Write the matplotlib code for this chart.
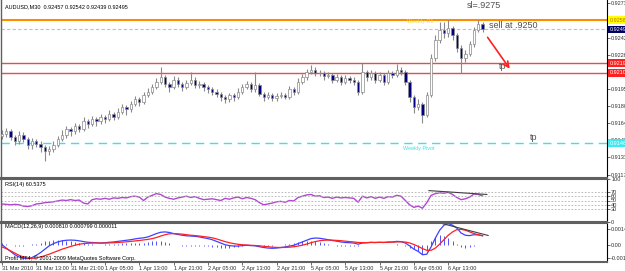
import matplotlib.pyplot as plt
import numpy as np

plt.rcParams['font.family'] = ['Liberation Sans', 'DejaVu Sans']

# AUDUSD bars (one bar per ~4.3 px)
opens = [0.9153, 0.9155, 0.9157, 0.9152, 0.9148, 0.9154, 0.9150, 0.9145, 0.9148, 0.9146,
         0.9143, 0.9139, 0.9141, 0.9145, 0.9150, 0.9154, 0.9159, 0.9157, 0.9162, 0.9159,
         0.9166, 0.9164, 0.9168, 0.9166, 0.9170, 0.9168, 0.9173, 0.9170, 0.9175, 0.9179,
         0.9177, 0.9182, 0.9186, 0.9184, 0.9190, 0.9193, 0.9197, 0.9202, 0.9206, 0.9200,
         0.9197, 0.9204, 0.9200, 0.9197, 0.9201, 0.9204, 0.9199, 0.9200, 0.9197, 0.9195,
         0.9193, 0.9191, 0.9188, 0.9186, 0.9190, 0.9188, 0.9193, 0.9197, 0.9200, 0.9195,
         0.9199, 0.9191, 0.9188, 0.9190, 0.9187, 0.9189, 0.9190, 0.9188, 0.9195, 0.9193,
         0.9202, 0.9206, 0.9211, 0.9213, 0.9210, 0.9210, 0.9207, 0.9208, 0.9204, 0.9206,
         0.9202, 0.9205, 0.9204, 0.9202, 0.9193, 0.9211, 0.9206, 0.9210, 0.9204, 0.9208,
         0.9202, 0.9210, 0.9208, 0.9213, 0.9211, 0.9202, 0.9188, 0.9179, 0.9182, 0.9172,
         0.9190, 0.9224, 0.9240, 0.9249, 0.9246, 0.9251, 0.9244, 0.9233, 0.9224, 0.9227,
         0.9236, 0.9249, 0.9254]
closes = [0.9155, 0.9157, 0.9152, 0.9148, 0.9154, 0.9150, 0.9145, 0.9148, 0.9146, 0.9143,
          0.9139, 0.9141, 0.9145, 0.9150, 0.9154, 0.9159, 0.9157, 0.9162, 0.9159, 0.9166,
          0.9164, 0.9168, 0.9166, 0.9170, 0.9168, 0.9173, 0.9170, 0.9175, 0.9179, 0.9177,
          0.9182, 0.9186, 0.9184, 0.9190, 0.9193, 0.9197, 0.9202, 0.9206, 0.9200, 0.9197,
          0.9204, 0.9200, 0.9197, 0.9201, 0.9204, 0.9199, 0.9200, 0.9197, 0.9195, 0.9193,
          0.9191, 0.9188, 0.9186, 0.9190, 0.9188, 0.9193, 0.9197, 0.9200, 0.9195, 0.9199,
          0.9191, 0.9188, 0.9190, 0.9187, 0.9189, 0.9190, 0.9188, 0.9195, 0.9193, 0.9202,
          0.9206, 0.9211, 0.9213, 0.9210, 0.9210, 0.9207, 0.9208, 0.9204, 0.9206, 0.9202,
          0.9205, 0.9204, 0.9202, 0.9193, 0.9211, 0.9206, 0.9210, 0.9204, 0.9208, 0.9202,
          0.9210, 0.9208, 0.9213, 0.9211, 0.9202, 0.9188, 0.9179, 0.9182, 0.9172, 0.9190,
          0.9224, 0.9240, 0.9249, 0.9246, 0.9251, 0.9244, 0.9233, 0.9224, 0.9227, 0.9236,
          0.9249, 0.9254, 0.92495]
highs = [0.9158, 0.9160, 0.9159, 0.9154, 0.9157, 0.9156, 0.9152, 0.9151, 0.9150, 0.9148,
         0.9145, 0.9144, 0.9148, 0.9153, 0.9158, 0.9162, 0.9161, 0.9165, 0.9164, 0.9170,
         0.9168, 0.9171, 0.9170, 0.9173, 0.9172, 0.9176, 0.9175, 0.9178, 0.9182, 0.9181,
         0.9185, 0.9189, 0.9188, 0.9193, 0.9196, 0.9200, 0.9205, 0.9215, 0.9208, 0.9202,
         0.9207, 0.9206, 0.9202, 0.9204, 0.9211, 0.9206, 0.9203, 0.9202, 0.9199, 0.9197,
         0.9195, 0.9193, 0.9190, 0.9192, 0.9192, 0.9196, 0.9200, 0.9203, 0.9202, 0.9211,
         0.9201, 0.9193, 0.9193, 0.9192, 0.9192, 0.9193, 0.9192, 0.9198, 0.9197, 0.9205,
         0.9209, 0.9214, 0.9217, 0.9215, 0.9213, 0.9212, 0.9211, 0.9210, 0.9209, 0.9208,
         0.9208, 0.9207, 0.9206, 0.9204, 0.9219, 0.9213, 0.9213, 0.9212, 0.9211, 0.9210,
         0.9213, 0.9212, 0.9218, 0.9215, 0.9213, 0.9204, 0.9190, 0.9186, 0.9184, 0.9193,
         0.9227, 0.9244, 0.9256, 0.9256, 0.9258, 0.9253, 0.9246, 0.9235, 0.9231, 0.9239,
         0.9252, 0.9258, 0.9256]
lows = [0.9150, 0.9152, 0.9149, 0.9145, 0.9146, 0.9147, 0.9141, 0.9141, 0.9143, 0.9138,
        0.9130, 0.9136, 0.9138, 0.9143, 0.9148, 0.9151, 0.9153, 0.9155, 0.9156, 0.9157,
        0.9160, 0.9162, 0.9162, 0.9164, 0.9165, 0.9166, 0.9167, 0.9168, 0.9173, 0.9172,
        0.9175, 0.9180, 0.9180, 0.9182, 0.9188, 0.9191, 0.9195, 0.9200, 0.9197, 0.9193,
        0.9195, 0.9197, 0.9194, 0.9195, 0.9199, 0.9196, 0.9196, 0.9194, 0.9192, 0.9190,
        0.9188, 0.9185, 0.9183, 0.9184, 0.9185, 0.9186, 0.9191, 0.9195, 0.9193, 0.9193,
        0.9189, 0.9185, 0.9186, 0.9185, 0.9185, 0.9187, 0.9186, 0.9186, 0.9190, 0.9191,
        0.9200, 0.9204, 0.9209, 0.9207, 0.9207, 0.9204, 0.9205, 0.9201, 0.9202, 0.9199,
        0.9200, 0.9201, 0.9199, 0.9190, 0.9191, 0.9203, 0.9204, 0.9201, 0.9202, 0.9199,
        0.9200, 0.9205, 0.9206, 0.9208, 0.9199, 0.9184, 0.9174, 0.9176, 0.9165, 0.9170,
        0.9188, 0.9221, 0.9237, 0.9242, 0.9243, 0.9240, 0.9229, 0.9210, 0.9220, 0.9225,
        0.9234, 0.9247, 0.9247]

rsi = [42, 41, 40, 41, 40, 37, 36, 38, 42, 43,
       45, 46, 47, 49, 51, 50, 52, 50, 51, 44,
       42, 52, 54, 53, 55, 53, 56, 55, 57, 56,
       59, 60, 58, 50, 58, 62, 66, 64, 58, 55,
       53, 56, 58, 60, 57, 59, 55, 52, 53, 54,
       52, 50, 55, 53, 56, 58, 54, 57, 55, 52,
       45, 40, 42, 44, 47, 48, 46, 50, 49, 57,
       60, 63, 64, 60, 61, 57, 58, 55, 58, 56,
       57, 56, 55, 46, 60, 56, 59, 55, 58, 55,
       59, 58, 62, 60, 50, 40, 34, 37, 32, 45,
       62, 66, 68, 67, 69, 64, 57, 52, 54, 58,
       65, 64, 60.5375]

macd_main = [0.00000, -0.00030, -0.00060, -0.00090, -0.00110, -0.00120, -0.00125, -0.00115, -0.00095, -0.00070,
             -0.00040, -0.00010, 0.00010, 0.00025, 0.00035, 0.00040, 0.00042, 0.00040, 0.00035, 0.00028,
             0.00022, 0.00020, 0.00018, 0.00015, 0.00018, 0.00022, 0.00025, 0.00030, 0.00035, 0.00040,
             0.00045, 0.00052, 0.00058, 0.00062, 0.00070, 0.00085, 0.00100, 0.00112, 0.00115, 0.00110,
             0.00100, 0.00092, 0.00085, 0.00080, 0.00078, 0.00075, 0.00070, 0.00062, 0.00055, 0.00045,
             0.00030, 0.00015, 0.00000, -0.00008, -0.00012, -0.00012, -0.00008, -0.00005, -0.00008, -0.00010,
             -0.00018, -0.00025, -0.00030, -0.00032, -0.00030, -0.00025, -0.00020, -0.00012, -0.00005, 0.00010,
             0.00025, 0.00040, 0.00055, 0.00060, 0.00058, 0.00052, 0.00045, 0.00038, 0.00032, 0.00025,
             0.00020, 0.00018, 0.00015, 0.00005, 0.00015, 0.00018, 0.00022, 0.00020, 0.00022, 0.00020,
             0.00024, 0.00025, 0.00030, 0.00028, 0.00015, -0.00010, -0.00040, -0.00060, -0.00090, -0.00085,
             -0.00020, 0.00060, 0.00130, 0.00175, 0.00190, 0.00175, 0.00150, 0.00105, 0.00085, 0.00082,
             0.00090, 0.00088, 0.00081]
macd_signal = [-0.00020, -0.00035, -0.00055, -0.00075, -0.00095, -0.00110, -0.00120, -0.00122, -0.00118, -0.00110,
               -0.00098, -0.00085, -0.00070, -0.00055, -0.00040, -0.00028, -0.00015, -0.00005, 0.00005, 0.00010,
               0.00013, 0.00015, 0.00016, 0.00015, 0.00015, 0.00016, 0.00018, 0.00020, 0.00023, 0.00026,
               0.00030, 0.00034, 0.00038, 0.00043, 0.00048, 0.00055, 0.00065, 0.00078, 0.00090, 0.00098,
               0.00100, 0.00098, 0.00095, 0.00090, 0.00085, 0.00082, 0.00078, 0.00073, 0.00068, 0.00062,
               0.00052, 0.00040, 0.00028, 0.00018, 0.00010, 0.00004, 0.00000, -0.00003, -0.00005, -0.00007,
               -0.00010, -0.00014, -0.00018, -0.00022, -0.00024, -0.00025, -0.00024, -0.00022, -0.00018, -0.00012,
               -0.00004, 0.00006, 0.00018, 0.00028, 0.00036, 0.00040, 0.00042, 0.00041, 0.00039, 0.00036,
               0.00032, 0.00028, 0.00025, 0.00020, 0.00019, 0.00019, 0.00020, 0.00020, 0.00021, 0.00021,
               0.00022, 0.00023, 0.00025, 0.00026, 0.00024, 0.00016, 0.00002, -0.00015, -0.00035, -0.00050,
               -0.00050, -0.00030, 0.00005, 0.00045, 0.00085, 0.00115, 0.00135, 0.00138, 0.00130, 0.00115,
               0.00100, 0.00090, 0.000799]
macd_hist = [0.00015, 0.00005, -0.00005, -0.00012, -0.00012, -0.00008, -0.00004, 0.00005, 0.00010, 0.00020,
             0.00030, 0.00035, 0.00040, 0.00040, 0.00040, 0.00035, 0.00030, 0.00025, 0.00020, 0.00015,
             0.00009, 0.00005, 0.00002, 0.00000, 0.00003, 0.00006, 0.00007, 0.00010, 0.00012, 0.00014,
             0.00015, 0.00018, 0.00020, 0.00019, 0.00022, 0.00030, 0.00035, 0.00034, 0.00025, 0.00012,
             0.00000, -0.00006, -0.00010, -0.00010, -0.00007, -0.00007, -0.00008, -0.00011, -0.00013, -0.00017,
             -0.00022, -0.00025, -0.00028, -0.00026, -0.00022, -0.00016, -0.00008, -0.00002, -0.00003, -0.00003,
             -0.00008, -0.00011, -0.00012, -0.00010, -0.00006, 0.00000, 0.00004, 0.00010, 0.00013, 0.00022,
             0.00029, 0.00034, 0.00037, 0.00032, 0.00022, 0.00012, 0.00003, -0.00003, -0.00007, -0.00011,
             -0.00012, -0.00010, -0.00010, -0.00015, -0.00004, -0.00001, 0.00002, 0.00000, 0.00001, -0.00001,
             0.00002, 0.00002, 0.00005, 0.00002, -0.00009, -0.00026, -0.00040, -0.00060, -0.00080, -0.00060,
             0.00030, 0.00070, 0.00090, 0.00080, 0.00060, 0.00030, 0.00010, -0.00020, -0.00025, -0.00020,
             -0.00010, -0.00002, 0.000011]

time_labels = ["31 Mar 2010", "31 Mar 13:00", "31 Mar 21:00", "1 Apr 05:00", "1 Apr 13:00",
               "1 Apr 21:00", "2 Apr 05:00", "2 Apr 13:00", "2 Apr 21:00", "5 Apr 05:00",
               "5 Apr 13:00", "5 Apr 21:00", "6 Apr 05:00", "6 Apr 13:00"]
price_ticks = [0.92735, 0.92420, 0.92265, 0.91955, 0.91800, 0.91645, 0.91490, 0.91335, 0.91175]

weekly_r1 = 0.92580
bid = 0.92495
tp_upper = 0.92190
tp_lower = 0.92100
weekly_pivot = 0.91464

W, H = 625, 271
fig = plt.figure(figsize=(W / 100, H / 100), dpi=100)
fig.patch.set_facecolor("white")


def add_panel(x0, y0, x1, y1):
    return fig.add_axes([x0 / W, 1 - y1 / H, (x1 - x0) / W, (y1 - y0) / H])


ax = add_panel(1, 0, 607, 178)
ax_rsi = add_panel(1, 179, 607, 222)
ax_macd = add_panel(1, 223, 607, 262)

n = len(closes)
x = np.arange(n)
xlim = (-0.23, 141.0)
small = 4

for a in (ax, ax_rsi, ax_macd):
    a.set_xlim(*xlim)
    a.yaxis.tick_right()
    a.tick_params(axis="y", labelsize=small, length=2, width=0.5, pad=1, colors="#303030")
    for s in a.spines.values():
        s.set_color("#606060")
        s.set_linewidth(1.5)
    a.spines["right"].set_color("black")
    a.spines["right"].set_linewidth(0.8)
    a.spines["left"].set_linewidth(1)
ax.spines["top"].set_visible(False)
ax.tick_params(axis="x", bottom=False, labelbottom=False)
ax_rsi.tick_params(axis="x", bottom=False, labelbottom=False)

# candles
for i in x:
    o, c = opens[i], closes[i]
    ax.vlines(i, lows[i], highs[i], color="#8a8a8a", lw=0.8, zorder=2)
    bottom = min(o, c)
    height = max(abs(c - o), 0.000012)
    face = "white" if c >= o else "#000080"
    ax.bar(i, height, bottom=bottom, width=0.55, color=face, edgecolor="#8a8a8a",
           linewidth=0.5, zorder=3)

ax.set_ylim(0.91147, 0.92762)
ax.set_yticks(price_ticks)
ax.set_yticklabels([f"{p:.5f}" for p in price_ticks])

ax.axhline(weekly_r1, color="#ff8c00", lw=1.5, zorder=1)
ax.axhline(bid, color="#c0c0c0", lw=0.8, ls=(0, (3, 2)), zorder=1)
ax.axhline(tp_upper, color="#e05050", lw=1, zorder=1)
ax.axhline(tp_lower, color="#e05050", lw=1, zorder=1)
ax.axhline(weekly_pivot, color="#40e0e8", lw=1, ls=(0, (6, 4)), zorder=1)

ax.text(94.5, weekly_r1 - 0.00012, "Weekly R1", color="#e8e040", fontsize=small, va="center")
ax.text(93.5, weekly_pivot - 0.00045, "Weekly Pivot", color="#40e0e8", fontsize=small, va="center")

yt = ax.get_yaxis_transform()
boxes = [(weekly_r1, "#ffff00", "#c07000"), (bid, "#000060", "white"),
         (tp_upper, "#ff2020", "white"), (tp_lower, "#ff2020", "white"),
         (weekly_pivot, "#40e8f0", "white")]
for lvl, fc, tc in boxes:
    ax.text(1.004, lvl, f"{lvl:.5f}", transform=yt, fontsize=small, color=tc, va="center",
            ha="left", clip_on=False,
            bbox=dict(boxstyle="square,pad=0.25", fc=fc, ec="none"))

ax.text(0.8, 0.92705, "AUDUSD,M30  0.92457 0.92542 0.92439 0.92495", fontsize=small,
        color="black", va="center")

# hand drawn trade notes
note = dict(fontsize=6.5, color="#505050", va="center")
ax.text(108.3, 0.92715, "sl=.9275", **note)
ax.text(113.5, 0.92535, "sell at .9250", **note)
ax.text(115.8, 0.92160, "tp", **note)
ax.text(123.0, 0.91510, "tp", **note)
ax.annotate("", xy=(118.7, 0.92118), xytext=(112.8, 0.92444),
            arrowprops=dict(arrowstyle="->", color="#ff2020", lw=1.2))

# RSI
ax_rsi.plot(x, rsi, color="#b048d0", lw=1)
for lvl in (70, 60, 50, 40, 30):
    ax_rsi.axhline(lvl, color="#b0b0b0", lw=0.6, ls=(0, (2, 2)))
ax_rsi.plot([99.5, 113], [73, 64], color="#404040", lw=0.8)
ax_rsi.set_ylim(0, 100)
ax_rsi.set_yticks([100, 70, 60, 50, 40, 30, 0])
ax_rsi.text(0.8, 88, "RSI(14) 60.5375", fontsize=small, va="center")

# MACD
ax_macd.vlines(x, 0, macd_hist, color="#5050ff", lw=0.7)
ax_macd.plot(x, macd_main, color="#4040ff", lw=0.9)
ax_macd.plot(x, macd_signal, color="#ff2020", lw=0.9)
ax_macd.plot([102.8, 113.3], [0.00188, 0.00083], color="#404040", lw=0.8)
ax_macd.set_ylim(-0.00155, 0.00195)
ax_macd.set_yticks([0.00144, 0.0, -0.00122])
ax_macd.set_yticklabels(["0.00144", "0.00", "-0.00122"])
ax_macd.text(0.8, 0.00160, "MACD(12,26,9) 0.000810 0.000799 0.000011", fontsize=small, va="center")
ax_macd.text(0.8, -0.00120, "Profit MT4, \u00a9 2001-2009 MetaQuotes Software Corp.",
             fontsize=small, va="center")

ax_macd.set_xticks(np.arange(0, 8 * len(time_labels), 8))
ax_macd.set_xticklabels(time_labels, ha="left")
ax_macd.tick_params(axis="x", labelsize=small, length=2, width=0.5, pad=1, colors="#303030")

fig.savefig("out.png", dpi=100, facecolor="white")
